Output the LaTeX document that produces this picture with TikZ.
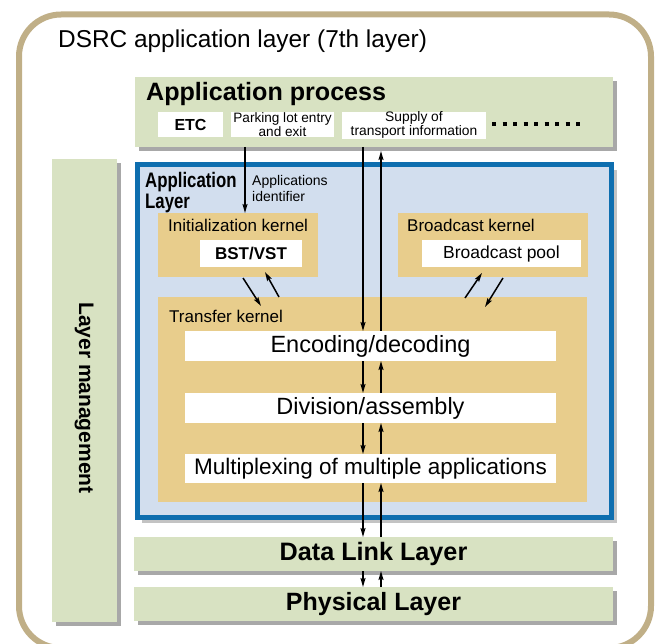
\documentclass[tikz,border=0pt]{standalone}
\usepackage{fontspec}
\setmainfont{Liberation Sans}
\usepackage{graphicx}
\usetikzlibrary{arrows.meta,calc}
\definecolor{frametan}{RGB}{192,175,135}
\definecolor{sage}{RGB}{216,226,194}
\definecolor{kerneltan}{RGB}{232,205,140}
\definecolor{layerblue}{RGB}{210,222,238}
\definecolor{borderblue}{RGB}{14,110,175}
\definecolor{shadowgrey}{RGB}{168,168,168}
\definecolor{lightshadow}{RGB}{195,195,195}
\newcommand{\fsz}[2]{\fontsize{#1}{#2}\selectfont}
\pgfdeclarelayer{background}
\pgfsetlayers{background,main}
\begin{document}
\begin{tikzpicture}[x=1pt,y=-1pt,
  boxbase/.style={inner sep=0, outer sep=0, anchor=north west, draw=none},
  greenbox/.style={boxbase, fill=sage},
  tanbox/.style={boxbase, fill=kerneltan},
  whitebox/.style={boxbase, fill=white, align=center},
  lbl/.style={inner sep=0, anchor=base west, align=left},
  shadowfill/.style={fill=shadowgrey},
  arr/.style={line width=1.5pt, -{Stealth[length=9pt,width=5pt,inset=1.5pt]}}
]
\useasboundingbox (0,0) rectangle (656,644);

% outer frame
\draw[frametan, line width=6pt, rounded corners=42pt] (19,14.5) rectangle (651,648);
\node[lbl, font=\fsz{24.4}{28}] (title) at (58,48) {DSRC application layer (7th layer)};

% application process
\node[greenbox, minimum width=478, minimum height=70] (ap) at (135,77) {};
\node[lbl, font=\fsz{25.1}{28}\bfseries] (aptxt) at (146,101) {Application process};
\node[whitebox, minimum width=65, minimum height=25, font=\fsz{16}{18}\bfseries] (etc) at (158,112) {ETC};
\node[whitebox, minimum width=103, minimum height=25, font=\fsz{13.6}{11}] (park) at (231,112) {Parking lot entry\\and exit};
\node[whitebox, minimum width=144, minimum height=25, font=\fsz{13.8}{11}] (supply) at (342,112) {Supply of\\transport information};
\draw[line width=4pt, dash pattern=on 4pt off 6.5pt] (492,124) -- (580,124);

% layer management
\node[greenbox, minimum width=65, minimum height=463] (lm) at (52,159) {};
\node[rotate=-90, inner sep=0, font=\fsz{21}{24}\bfseries] (lmtxt) at (84,398) {Layer management};

% application layer
\node[boxbase, minimum width=474, minimum height=352, fill=layerblue, draw=borderblue, line width=5pt] (al) at (137,165) {};
\node[lbl, font=\fsz{21}{21.5}\bfseries] (altxt) at (145,209) {\scalebox{0.8}[1]{Application}\\\scalebox{0.8}[1]{Layer}};
\node[lbl, font=\fsz{14}{16}] (appid) at (252,202) {Applications\\identifier};

% initialization kernel
\node[tanbox, minimum width=160, minimum height=64] (init) at (158,213) {};
\node[lbl, font=\fsz{17}{20}] (inittxt) at (168,232) {Initialization kernel};
\node[whitebox, minimum width=102, minimum height=27, font=\fsz{17}{20}\bfseries] (bst) at (200,240) {BST/VST};

% broadcast kernel
\node[tanbox, minimum width=190, minimum height=64] (bk) at (398,213) {};
\node[lbl, font=\fsz{17}{20}] (bktxt) at (407,232) {Broadcast kernel};
\node[whitebox, minimum width=159, minimum height=27, font=\fsz{17.5}{20}] (bpool) at (422,240) {Broadcast pool};

% transfer kernel
\node[tanbox, minimum width=429, minimum height=205] (tk) at (158,297) {};
\node[lbl, font=\fsz{17}{20}] (tktxt) at (169,323) {Transfer kernel};
\node[whitebox, minimum width=371, minimum height=30, font=\fsz{23.5}{26}] (enc) at (185,331) {Encoding/decoding};
\node[whitebox, minimum width=371, minimum height=30, font=\fsz{23.5}{26}] (div) at (185,393) {Division/assembly};
\node[whitebox, minimum width=371, minimum height=29, font=\fsz{22.5}{26}] (mux) at (185,454) {Multiplexing of multiple applications};

% lower layers
\node[greenbox, minimum width=479, minimum height=34, font=\fsz{25.2}{28}\bfseries] (dl) at (134,537) {Data Link Layer};
\node[greenbox, minimum width=479, minimum height=34, font=\fsz{25}{28}\bfseries] (ph) at (134,587) {Physical Layer};

% shadows
\begin{pgfonlayer}{background}
  \foreach \n in {ap, lm, dl, ph} {
    \fill[shadowfill] ($(\n.north west)+(4,4)$) rectangle ($(\n.south east)+(4,4)$);
  }
  \fill[lightshadow] ($(al.north west)+(5,5)$) rectangle ($(al.south east)+(5.5,5.5)$);
\end{pgfonlayer}

% connectors
\coordinate (c0) at (245,0);
\coordinate (c1) at (363,0);
\coordinate (c2) at (381,0);
\draw[arr] (ap.south -| c0) -- (init.north -| c0);
\draw[arr] (ap.south -| c1) -- (enc.north -| c1);
\draw[arr] (enc.north -| c2) -- ($(ap.south -| c2)+(0,4)$);
\foreach \a/\b in {enc/div, div/mux, mux/dl, dl/ph} {
  \draw[arr] (\a.south -| c1) -- (\b.north -| c1);
  \draw[arr] (\b.north -| c2) -- (\a.south -| c2);
}
\draw[arr] ($(init.south)+(5,1)$) -- ($(tk.north west)+(103,9)$);
\draw[arr] ($(tk.north west)+(121,0)$) -- ($(init.south)+(27,-5)$);
\draw[arr] ($(tk.north west)+(307,1)$) -- ($(bk.south)+(-11,-4)$);
\draw[arr] ($(bk.south)+(10,1)$) -- ($(tk.north west)+(327,10)$);
\end{tikzpicture}
\end{document}
